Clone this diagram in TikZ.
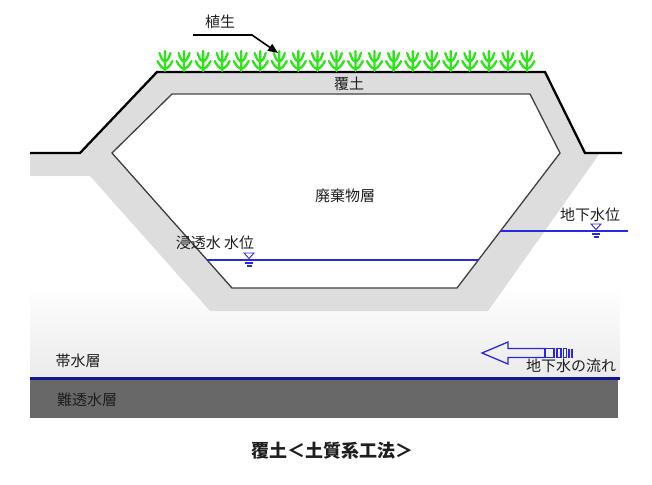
\documentclass[tikz,border=0pt]{standalone}
\usepackage{fontspec}
\newfontfamily\jp{Noto Sans CJK JP}
\usetikzlibrary{arrows.meta}

\definecolor{grass}{RGB}{45,228,25}
\definecolor{cover}{RGB}{221,221,221}
\definecolor{water}{RGB}{40,40,225}
\definecolor{navyline}{RGB}{22,22,140}
\definecolor{clay}{RGB}{104,104,104}
\definecolor{ink}{RGB}{30,30,30}

\tikzset{
  lbl/.style={font=\jp\fontsize{15}{17}\selectfont, text=ink, inner sep=0pt},
  caption/.style={font=\jp\bfseries\fontsize{18}{20}\selectfont, text=ink, inner sep=0pt},
  tuft/.pic={
    \draw[grass, line width=2.3, line cap=round]
      (0,-1) -- (0,-21)
      (0,-3) .. controls (-4,-5) .. (-7.5,-11)
      (0,-3) .. controls (4,-5) .. (7.5,-11)
      (0,-10) .. controls (-3,-12) .. (-5.5,-19)
      (0,-10) .. controls (3,-12) .. (5.5,-19);
  },
  level/.pic={
    \draw[water, line width=0.9] (-5,-7) -- (5,-7) -- (0,-1.5) -- cycle;
    \draw[water, line width=1.1] (-4,3) -- (4,3) (-2.5,6) -- (2.5,6);
  }
}

\begin{document}
\begin{tikzpicture}[x=1pt,y=-1pt]
\useasboundingbox (0,0) rectangle (652,484);

% aquifer: soft gradient towards the clay layer
\shade[top color=white, bottom color=black!8] (30,285) rectangle (620,378);

% cover soil band around the waste body
\fill[cover] (30,153) -- (80,153) -- (157,72) -- (545,72) -- (585,153)
  -- (600,153) -- (488,311) -- (210,311) -- (90,176) -- (30,176) -- cycle;

% waste body
\filldraw[fill=white, draw=black!75, line width=1.3, line join=miter]
  (172,94) -- (530,94) -- (560,153) -- (457,288) -- (232,288) -- (112,153) -- cycle;

% ground surface and top of the cover
\draw[line width=2.3, line join=miter]
  (30,153) -- (80,153) -- (157,72) -- (545,72) -- (585,153) -- (622,153);

% vegetation
\foreach \i in {0,...,19}
  \pic at ({165+19.05*\i},72) {tuft};

% vegetation label with leader arrow
\node[lbl] (veg) at (220,22) {植生};
\coordinate (vstart) at (193,35);
\coordinate (vbend) at (252,35);
\coordinate (vtip) at (278,53);
\draw[line width=1.6, -{Triangle[length=10pt,width=8pt]}] (vstart) -- (vbend) -- (vtip);

% leachate level inside the waste
\draw[water, line width=1.4] (207,260) -- (478,260);
\pic at (249,260) {level};
\node[lbl] (leach) at (215,243) {浸透水 水位};

% groundwater level
\draw[water, line width=1.4] (500,231) -- (628,231);
\pic at (596,231) {level};
\node[lbl] (gwl) at (590,215) {地下水位};

% layer labels
\node[lbl] (coverlbl) at (349,84) {覆土};
\node[lbl] (waste) at (345,196) {廃棄物層};

% aquifer / aquitard
\draw[navyline, line width=3] (30,378) -- (620,378);
\fill[clay] (30,379.5) rectangle (618,418);
\node[lbl] (aquifer) at (78,361) {帯水層};
\node[lbl] (aquitard) at (87,400) {難透水層};

% groundwater flow arrow
\draw[water, line width=1.3, line join=miter]
  (482,353) -- (508,342) -- (508,348.5) -- (545,348.5) -- (545,357.5)
  -- (508,357.5) -- (508,364) -- cycle;
\draw[water, line width=1.3]
  (545,348.5) rectangle (554,357.5)
  (557,348.5) rectangle (561,357.5)
  (563.5,348.5) rectangle (566.5,357.5)
  (569,348.5) -- (569,357.5)
  (572,348.5) -- (572,357.5);
\node[lbl] (flow) at (571,366) {地下水の流れ};

% caption
\node[caption] (title) at (332,451) {覆土＜土質系工法＞};
\end{tikzpicture}
\end{document}
